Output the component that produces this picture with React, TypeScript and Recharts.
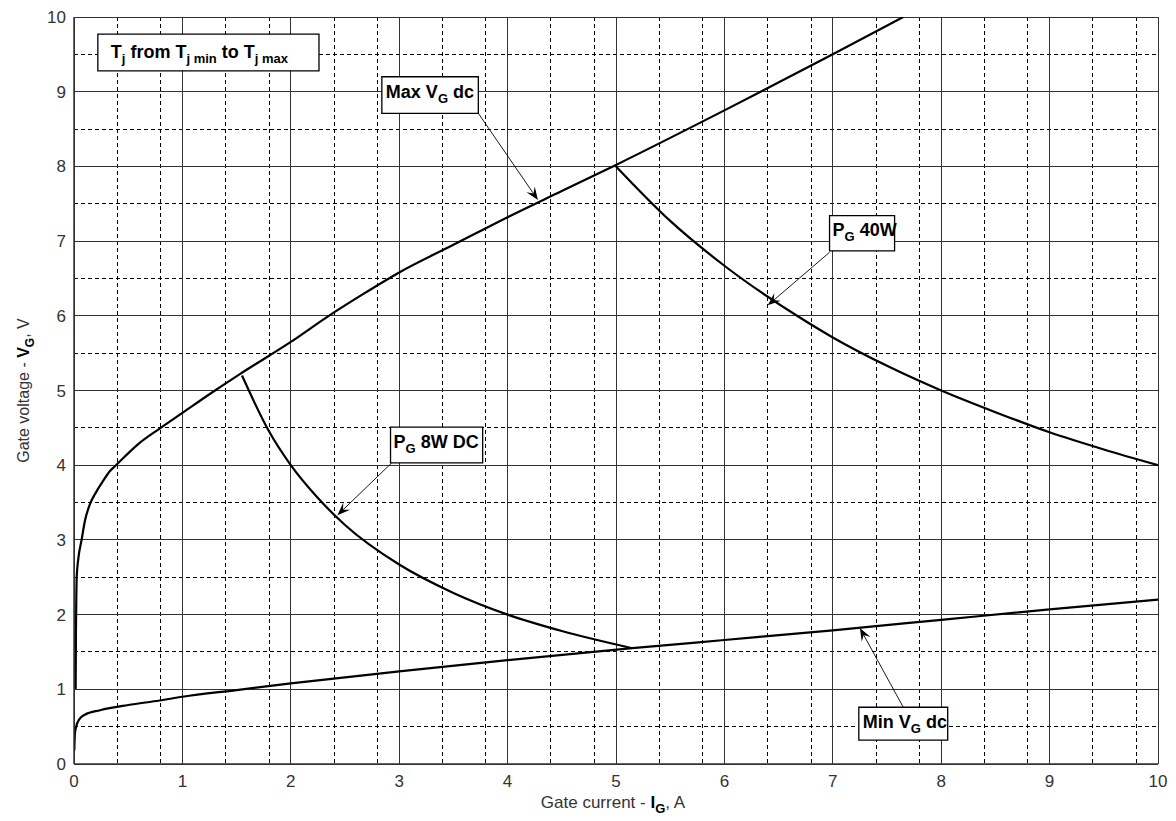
import React from "react";
import {
  ComposedChart,
  Line,
  XAxis,
  YAxis,
  CartesianGrid,
  ReferenceArea,
  ReferenceLine,
} from "recharts";

const FONT = "'Liberation Sans', Arial, sans-serif";

// tick labels
const xTicks = [0, 1, 2, 3, 4, 5, 6, 7, 8, 9, 10];
const yTicks = [0, 1, 2, 3, 4, 5, 6, 7, 8, 9, 10];

// Max V_G dc
const maxVgI = [0.015, 0.018, 0.022, 0.025, 0.04, 0.07, 0.1, 0.15, 0.2, 0.26, 0.33, 0.38, 0.59, 0.79, 1.0, 1.28, 1.53, 2, 2.33, 2.7, 3, 3.5, 4, 4.5, 5, 6, 7, 7.65];
const maxVgV = [1.0, 1.8, 2.3, 2.5, 2.75, 3.0, 3.25, 3.49, 3.63, 3.77, 3.92, 3.99, 4.28, 4.49, 4.7, 4.98, 5.22, 5.65, 5.98, 6.32, 6.58, 6.95, 7.32, 7.67, 8.02, 8.75, 9.5, 10];

// P_G 8W DC
const pg8I = [1.55, 1.8, 2, 2.25, 2.5, 3, 3.5, 4, 4.5, 5.15];
const pg8V = [5.2, 4.45, 4.0, 3.56, 3.2, 2.67, 2.29, 2.0, 1.78, 1.55];

// P_G 40W
const pg40I = [5, 5.5, 6, 6.67, 7, 7.5, 8, 8.5, 9, 9.5, 10];
const pg40V = [8.0, 7.27, 6.67, 6.0, 5.71, 5.33, 5.0, 4.71, 4.44, 4.21, 4.0];

// Min V_G dc
const minVgI = [0.003, 0.008, 0.02, 0.05, 0.1, 0.24, 0.5, 0.79, 1, 1.5, 2, 3, 4, 5.15, 6, 7, 8, 9, 10];
const minVgV = [0.18, 0.4, 0.5, 0.6, 0.66, 0.72, 0.79, 0.85, 0.9, 0.99, 1.08, 1.24, 1.39, 1.55, 1.66, 1.79, 1.93, 2.07, 2.2];

const toPts = (xs: number[], ys: number[]) => xs.map((x, i) => ({ x, v: ys[i] }));
const maxVg = toPts(maxVgI, maxVgV);
const pg8 = toPts(pg8I, pg8V);
const pg40 = toPts(pg40I, pg40V);
const minVg = toPts(minVgI, minVgV);

const xMinor = xTicks.slice(0, -1).flatMap((t) => [0.2, 0.4, 0.6, 0.8].map((f) => t + f));
const yMinor = yTicks.slice(0, -1).map((t) => t + 0.5);

type Part = [string, boolean];

// annotation boxes: [x1, x2, y1, y2], text parts, arrow [fromX, fromY, toX, toY]
const notes: { box: number[]; parts: Part[]; pad: number; lift: number; arrow?: number[] }[] = [
  {
    box: [0.22, 2.26, 9.28, 9.77],
    parts: [["T", false], ["j", true], [" from T", false], ["j min", true], [" to T", false], ["j max", true]],
    pad: 13,
    lift: 6,
  },
  { box: [2.84, 3.73, 8.71, 9.2], parts: [["Max V", false], ["G", true], [" dc", false]], pad: 4, lift: 3, arrow: [3.73, 8.71, 4.28, 7.55] },
  { box: [2.92, 3.77, 4.03, 4.51], parts: [["P", false], ["G", true], [" 8W DC", false]], pad: 3, lift: 3, arrow: [2.93, 4.03, 2.43, 3.33] },
  { box: [6.97, 7.57, 6.87, 7.34], parts: [["P", false], ["G", true], [" 40W", false]], pad: 3, lift: 3, arrow: [6.97, 6.85, 6.4, 6.14] },
  { box: [7.24, 8.06, 0.32, 0.76], parts: [["Min V", false], ["G", true], [" dc", false]], pad: 4, lift: 4, arrow: [7.65, 0.76, 7.25, 1.82] },
];

function RichText({ x, y, parts, size, sub, weight, anchor, fill = "#000" }: any) {
  let shifted = false;
  return (
    <text x={x} y={y} fontFamily={FONT} fontSize={size} fontWeight={weight} fill={fill} textAnchor={anchor}>
      {parts.map(([s, isSub]: Part, i: number) => {
        let dy = 0;
        if (isSub && !shifted) { dy = 5; shifted = true; }
        if (!isSub && shifted) { dy = -5; shifted = false; }
        return (
          <tspan key={i} dy={dy} fontSize={isSub ? sub : size} xmlSpace="preserve">
            {s}
          </tspan>
        );
      })}
    </text>
  );
}

const boxLabel = (parts: Part[], pad: number, lift: number) => (props: any) => {
  const { x, y, height } = props.viewBox;
  return <RichText x={x + pad} y={y + height / 2 + lift} parts={parts} size={18} sub={13} weight="bold" />;
};

const ArrowShape = (p: any) => {
  const { x1, y1, x2, y2 } = p;
  const a = Math.atan2(y2 - y1, x2 - x1);
  const L = 13;
  const W = 5;
  const bx = x2 - L * Math.cos(a);
  const by = y2 - L * Math.sin(a);
  const nx = -Math.sin(a);
  const ny = Math.cos(a);
  const mx = x2 - L * 0.6 * Math.cos(a);
  const my = y2 - L * 0.6 * Math.sin(a);
  const d = `M${x2},${y2} L${bx + nx * W},${by + ny * W} L${mx},${my} L${bx - nx * W},${by - ny * W} Z`;
  return (
    <g>
      <line x1={x1} y1={y1} x2={mx} y2={my} stroke="#000" strokeWidth={0.9} />
      <path d={d} fill="#000" />
    </g>
  );
};

const XLabel = (props: any) => {
  const { x, y, width } = props.viewBox;
  return (
    <text x={x + width / 2 - 3} y={y + 44} fontFamily={FONT} fontSize={17} fill="#333" textAnchor="middle">
      <tspan>Gate current - </tspan>
      <tspan fontWeight="bold" fill="#000">I</tspan>
      <tspan fontWeight="bold" fontSize={13} dy={5} fill="#000">G</tspan>
      <tspan dy={-5}>, A</tspan>
    </text>
  );
};

const YLabel = (props: any) => {
  const { x, y, height } = props.viewBox;
  const cx = x + 19;
  const cy = y + height / 2;
  return (
    <g transform={`rotate(-90, ${cx}, ${cy})`}>
      <text x={cx} y={cy} fontFamily={FONT} fontSize={16} fill="#333" textAnchor="middle">
        <tspan>Gate voltage - </tspan>
        <tspan fontWeight="bold" fill="#000">V</tspan>
        <tspan fontWeight="bold" fontSize={12} dy={5} fill="#000">G</tspan>
        <tspan dy={-5}>, V</tspan>
      </text>
    </g>
  );
};

export default function App() {
  return (
    <div style={{ position: "absolute", left: 0, top: 0, width: 1176, height: 821, background: "#fff" }}>
      <ComposedChart width={1176} height={821} margin={{ top: 17, right: 18, bottom: 7, left: 10 }}>
        <CartesianGrid
          verticalValues={xMinor}
          horizontalValues={yMinor}
          stroke="#000"
          strokeDasharray="4 3"
          strokeWidth={1}
          shapeRendering="crispEdges"
        />
        <CartesianGrid
          verticalValues={xTicks}
          horizontalValues={yTicks}
          stroke="#333"
          strokeWidth={1}
          shapeRendering="crispEdges"
        />
        <XAxis
          type="number"
          dataKey="x"
          domain={[0, 10]}
          ticks={xTicks}
          allowDataOverflow
          tickLine={false}
          tickSize={0}
          tickMargin={11}
          height={50}
          axisLine={{ stroke: "#333", strokeWidth: 1.5 }}
          tick={{ fontFamily: FONT, fontSize: 17, fill: "#333" }}
          label={{ content: XLabel }}
        />
        <YAxis
          type="number"
          dataKey="v"
          domain={[0, 10]}
          ticks={yTicks}
          allowDataOverflow
          tickLine={false}
          tickSize={0}
          tickMargin={8}
          width={64}
          axisLine={{ stroke: "#333", strokeWidth: 1.5 }}
          tick={{ fontFamily: FONT, fontSize: 17, fill: "#333" }}
          label={{ content: YLabel }}
        />
        <Line data={maxVg} dataKey="v" type="monotone" stroke="#000" strokeWidth={2.2} dot={false} isAnimationActive={false} />
        <Line data={pg8} dataKey="v" type="monotone" stroke="#000" strokeWidth={2.2} dot={false} isAnimationActive={false} />
        <Line data={pg40} dataKey="v" type="monotone" stroke="#000" strokeWidth={2.2} dot={false} isAnimationActive={false} />
        <Line data={minVg} dataKey="v" type="monotone" stroke="#000" strokeWidth={2.2} dot={false} isAnimationActive={false} />
        {notes.map((n, i) =>
          n.arrow ? (
            <ReferenceLine
              key={"a" + i}
              segment={[
                { x: n.arrow[0], y: n.arrow[1] },
                { x: n.arrow[2], y: n.arrow[3] },
              ]}
              shape={ArrowShape}
            />
          ) : null
        )}
        {notes.map((n, i) => (
          <ReferenceArea
            key={"b" + i}
            x1={n.box[0]}
            x2={n.box[1]}
            y1={n.box[2]}
            y2={n.box[3]}
            fill="#fff"
            fillOpacity={1}
            stroke="#000"
            strokeWidth={1.3}
            label={{ content: boxLabel(n.parts, n.pad, n.lift) }}
          />
        ))}
      </ComposedChart>
    </div>
  );
}
